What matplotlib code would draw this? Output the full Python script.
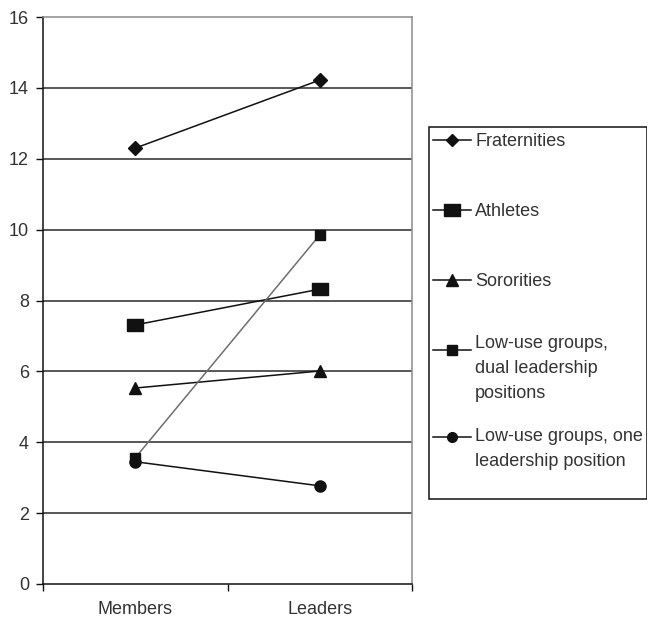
import matplotlib.pyplot as plt
from matplotlib.lines import Line2D
from matplotlib.patches import Rectangle

plt.rcParams['font.family'] = ['Liberation Sans', 'DejaVu Sans']

categories = ["Members", "Leaders"]
fraternities = [12.3, 14.22]
athletes = [7.31, 8.32]
sororities = [5.53, 6.01]
dual_leadership = [3.56, 9.85]
one_leadership = [3.45, 2.77]

# wide box used for the athletes series
wide_box = [(-1.3, -1), (1.3, -1), (1.3, 1), (-1.3, 1), (-1.3, -1)]

# label, values, marker, plot size, legend size, line colour
series = [
    ("Fraternities", fraternities, 'D', 7.5, 6, '#111111'),
    ("Athletes", athletes, wide_box, 12, 11.5, '#111111'),
    ("Sororities", sororities, '^', 9, 8, '#111111'),
    ("Low-use groups,\ndual leadership\npositions", dual_leadership, 's', 7.5, 7, '#6e6e6e'),
    ("Low-use groups, one\nleadership position", one_leadership, 'o', 8, 7, '#111111'),
]

W, H = 648, 619
fig = plt.figure(figsize=(W / 100, H / 100), dpi=100)
ax = fig.add_axes([43 / W, 1 - 584 / H, 369 / W, 567 / H])

x = list(range(len(categories)))
for label, vals, mk, ms, lms, col in series:
    ax.plot(x, vals, color=col, lw=1.1, marker=mk, ms=ms,
            mfc='#111111', mec='#111111', zorder=3)

ax.set_xlim(-0.5, 1.5)
ax.set_ylim(0, 16)
ax.set_yticks(range(0, 17, 2))
for yv in range(2, 16, 2):
    ax.axhline(yv, color='#2a2a2a', lw=1.1, zorder=1)

ax.set_xticks([-0.5, 0.5, 1.5])
ax.set_xticklabels([])
ax.set_xticks(x, minor=True)
ax.set_xticklabels(categories, minor=True)
ax.tick_params(axis='x', which='minor', length=0, pad=12)
ax.tick_params(axis='x', which='major', length=5, width=1, direction='out', color='#111111')
ax.tick_params(axis='y', length=5, width=1, direction='out', color='#111111', pad=5)
for lbl in ax.get_xticklabels(minor=True) + ax.get_yticklabels():
    lbl.set_fontsize(13)
    lbl.set_color('#333333')

ax.spines['left'].set_color('#111111')
ax.spines['bottom'].set_color('#111111')
ax.spines['top'].set_color('#8a8a8a')
ax.spines['right'].set_color('#8a8a8a')
for s in ax.spines.values():
    s.set_linewidth(1.1)

# legend panel drawn in pixel coordinates
lg = fig.add_axes([428 / W, 1 - 500 / H, 219 / W, 374 / H])
lg.set_xlim(428, 647)
lg.set_ylim(500, 126)
lg.axis('off')
lg.add_patch(Rectangle((428.5, 126.5), 218, 373, fill=False, ec='#111111', lw=1.1))
entry_y = [140, 210, 280, 350, 437]
text_y = [141, 211, 281, 343, 436]
for (label, vals, mk, ms, lms, col), yy, ty in zip(series, entry_y, text_y):
    lg.add_line(Line2D([433, 471], [yy, yy], color='#111111', lw=1.1))
    lg.plot([452], [yy], marker=mk, ms=lms, mfc='#111111', mec='#111111')
    lg.text(475, ty - 8, label, fontsize=13, color='#333333',
            va='top', ha='left', linespacing=1.62)

fig.savefig("out.png", dpi=100)
